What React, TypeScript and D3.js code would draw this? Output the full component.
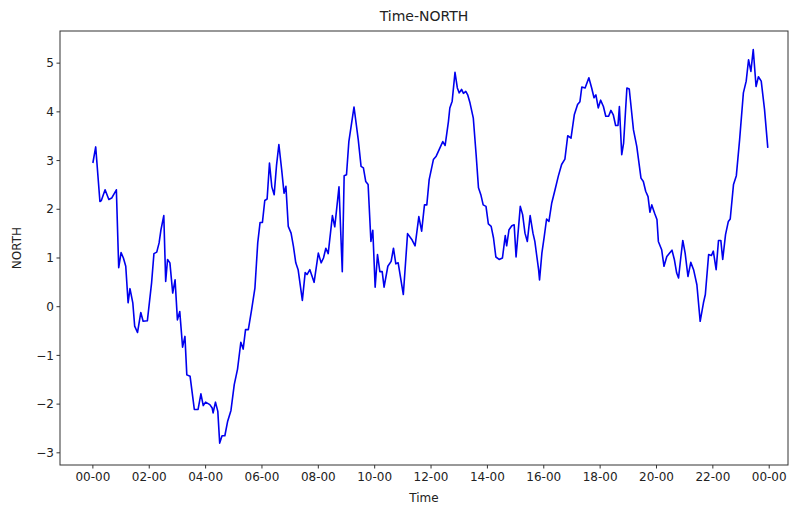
import React from "react";
import * as d3 from "d3";

// Sample times (HH:MM within one day) and NORTH readings
const times: string[] = [
  "00:00","00:06","00:15","00:18","00:26","00:34","00:40","00:50","00:55","01:00",
  "01:05","01:10","01:15","01:19","01:25","01:29","01:35","01:42","01:47","01:56",
  "02:05","02:10","02:16","02:21","02:25","02:31","02:35","02:39","02:44","02:50",
  "02:55","03:00","03:05","03:11","03:16","03:20","03:27","03:36","03:44","03:50",
  "03:55","04:00","04:09","04:14","04:16","04:21","04:26","04:30","04:35","04:41",
  "04:47","04:54","05:01","05:08","05:15","05:20","05:25","05:31","05:38","05:45",
  "05:51","05:56","06:01","06:06","06:11","06:16","06:21","06:26","06:31","06:36",
  "06:42","06:47","06:51","06:56","07:02","07:07","07:12","07:17","07:26","07:32",
  "07:36","07:42","07:51","08:00","08:06","08:11","08:16","08:21","08:30","08:35",
  "08:44","08:51","08:55","09:00","09:05","09:16","09:25","09:31","09:36","09:41",
  "09:46","09:52","09:56","10:01","10:06","10:11","10:16","10:20","10:28","10:35",
  "10:40","10:45","10:50","11:01","11:10","11:19","11:26","11:34","11:40","11:46",
  "11:51","11:56","12:05","12:11","12:18","12:25","12:30","12:37","12:40","12:45",
  "12:51","12:56","13:00","13:05","13:09","13:14","13:18","13:23","13:30","13:36",
  "13:41","13:46","13:51","13:57","14:02","14:08","14:13","14:18","14:25","14:32",
  "14:38","14:41","14:46","14:52","14:57","15:01","15:10","15:15","15:20","15:25",
  "15:31","15:37","15:41","15:49","15:51","15:56","16:01","16:06","16:11","16:17",
  "16:24","16:31","16:38","16:45","16:51","16:58","17:05","17:12","17:17","17:21",
  "17:28","17:36","17:42","17:47","17:51","17:56","18:01","18:07","18:12","18:18",
  "18:23","18:28","18:33","18:38","18:41","18:46","18:50","18:57","19:02","19:11",
  "19:18","19:27","19:32","19:37","19:42","19:46","19:50","19:56","20:01","20:04",
  "20:11","20:16","20:22","20:28","20:33","20:38","20:43","20:47","20:52","20:56",
  "21:01","21:07","21:13","21:19","21:26","21:33","21:40","21:44","21:51","21:57",
  "22:01","22:07","22:12","22:17","22:21","22:27","22:33","22:37","22:44","22:50",
  "22:57","23:05","23:11","23:16","23:21","23:26","23:32","23:37","23:43","23:50",
  "23:57",
];

const north: number[] = [
  2.95,3.28,2.16,2.18,2.40,2.20,2.23,2.40,0.80,1.11,
  1.00,0.83,0.08,0.37,0.08,-0.40,-0.53,-0.12,-0.30,-0.29,
  0.49,1.09,1.12,1.31,1.58,1.87,0.52,0.97,0.90,0.28,
  0.55,-0.27,-0.10,-0.83,-0.61,-1.40,-1.43,-2.11,-2.11,-1.79,
  -2.03,-1.96,-2.01,-2.08,-2.18,-1.96,-2.15,-2.80,-2.65,-2.65,
  -2.35,-2.13,-1.60,-1.28,-0.73,-0.87,-0.47,-0.47,-0.06,0.38,
  1.31,1.73,1.73,2.18,2.21,2.95,2.46,2.30,2.90,3.33,
  2.81,2.33,2.47,1.65,1.51,1.24,0.90,0.76,0.13,0.70,
  0.66,0.76,0.50,1.10,0.90,1.00,1.20,1.09,1.87,1.64,
  2.46,0.72,2.69,2.71,3.39,4.10,3.43,2.88,2.85,2.57,
  2.51,1.34,1.57,0.40,1.07,0.72,0.72,0.40,0.83,0.93,
  1.20,0.88,0.90,0.25,1.50,1.38,1.25,1.85,1.55,2.09,
  2.09,2.61,3.02,3.09,3.24,3.39,3.31,3.80,4.08,4.22,
  4.81,4.49,4.39,4.46,4.38,4.42,4.35,4.18,3.87,3.12,
  2.44,2.30,2.09,2.06,1.70,1.65,1.41,1.02,0.97,1.00,
  1.46,1.25,1.58,1.66,1.68,1.02,2.06,1.89,1.51,1.34,
  1.87,1.51,1.34,0.76,0.55,1.10,1.44,1.80,1.75,2.13,
  2.40,2.68,2.92,3.03,3.51,3.46,3.94,4.15,4.21,4.51,
  4.49,4.70,4.49,4.29,4.35,4.08,4.24,4.11,3.91,3.91,
  4.03,3.94,3.72,3.72,4.11,3.12,3.36,4.49,4.47,3.63,
  3.29,2.64,2.57,2.37,2.26,1.94,2.09,1.92,1.79,1.34,
  1.17,0.83,1.03,1.10,1.16,0.97,0.69,0.59,1.03,1.36,
  1.10,0.62,0.91,0.76,0.45,-0.30,0.08,0.25,1.07,1.05,
  1.14,0.76,1.36,1.36,0.97,1.48,1.75,1.80,2.51,2.69,
  3.43,4.39,4.63,5.07,4.83,5.28,4.52,4.72,4.63,4.05,
  3.26,
];

const yTicks: number[] = [-3, -2, -1, 0, 1, 2, 3, 4, 5];

const W = 795;
const H = 510;
const left = 60;
const right = 788;
const top = 31;
const bottom = 465;

const day = new Date(2021, 0, 1, 0, 0);
const parseHM = (s: string) => {
  const [h, m] = s.split(":").map(Number);
  return new Date(day.getTime() + (h * 60 + m) * 60000);
};
const minutesFrom = (m: number) => new Date(day.getTime() + m * 60000);

const points = times.map((t, i) => ({ t: parseHM(t), v: north[i] }));

const x = d3
  .scaleTime()
  .domain([minutesFrom(-70), minutesFrom(1480)])
  .range([left, right]);
const y = d3.scaleLinear().domain([-3.25, 5.66]).range([bottom, top]);

const xTicks = d3.range(0, 13).map((k) => minutesFrom(k * 120));
const fmt = d3.timeFormat("%H-%M");
const yFmt = (v: number) => (v < 0 ? "\u2212" + Math.abs(v) : String(v));

const line = d3
  .line<{ t: Date; v: number }>()
  .x((d) => x(d.t))
  .y((d) => y(d.v));

const font = "'DejaVu Sans', sans-serif";

export default function App() {
  return (
    <svg
      width={W}
      height={H}
      style={{ position: "absolute", left: 0, top: 0, background: "#fff" }}
      fontFamily={font}
    >
      <rect x={0} y={0} width={W} height={H} fill="#fff" />
      <text x={(left + right) / 2} y={21} textAnchor="middle" fontSize={14} fill="#222">
        Time-NORTH
      </text>

      <path d={line(points) ?? ""} fill="none" stroke="#0000ee" strokeWidth={1.6} strokeLinejoin="round" />

      <rect x={left} y={top} width={right - left} height={bottom - top} fill="none" stroke="#333" strokeWidth={1} />

      {yTicks.map((v) => (
        <g key={v}>
          <line x1={left - 3.5} x2={left} y1={y(v)} y2={y(v)} stroke="#333" />
          <text x={left - 6} y={y(v)} dy="0.35em" textAnchor="end" fontSize={12} fill="#222">
            {yFmt(v)}
          </text>
        </g>
      ))}

      {xTicks.map((d, i) => (
        <g key={i}>
          <line x1={x(d)} x2={x(d)} y1={bottom} y2={bottom + 3.5} stroke="#333" />
          <text x={x(d)} y={bottom + 16} textAnchor="middle" fontSize={12} fill="#222">
            {fmt(d)}
          </text>
        </g>
      ))}

      <text x={(left + right) / 2} y={502} textAnchor="middle" fontSize={12} fill="#222">
        Time
      </text>
      <text
        transform={`translate(21, ${(top + bottom) / 2}) rotate(-90)`}
        textAnchor="middle"
        fontSize={12}
        fill="#222"
      >
        NORTH
      </text>
    </svg>
  );
}
